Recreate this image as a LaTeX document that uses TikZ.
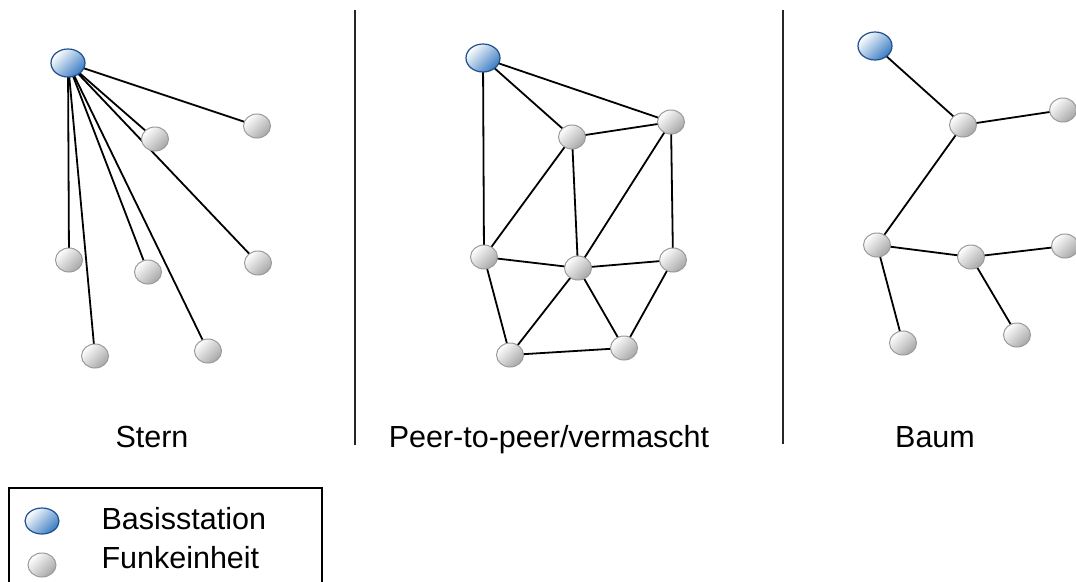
\documentclass[tikz,border=0pt]{standalone}
\usepackage{fontspec}
\setmainfont{Liberation Sans}
\usetikzlibrary{backgrounds,shapes.geometric}
\definecolor{bsblue}{HTML}{3A7CC2}
\definecolor{bsrim}{HTML}{1D4F8C}
\definecolor{fegray}{HTML}{A6A6A6}
\definecolor{ferim}{HTML}{9A9A9A}
\tikzset{
  bs/.style  ={draw=bsrim, ellipse, minimum width=34pt, minimum height=28pt, inner sep=0pt,
               line width=1.2pt, top color=white, bottom color=bsblue, shading angle=45},
  fe/.style  ={draw=ferim, ellipse, minimum width=27pt, minimum height=24pt, inner sep=0pt,
               line width=1pt, top color=white, bottom color=fegray, shading angle=45},
  link/.style={line width=1.8pt, black},
  sep/.style ={line width=2pt, black!85},
  lab/.style ={font=\fontsize{30.5}{36}\selectfont, anchor=base},
}

\begin{document}
\begin{tikzpicture}[x=1pt, y=-1pt]
  \useasboundingbox (0,0) rectangle (1076,581);
  % Stern
  \node[bs] (s0) at (68,63) {};
  \node[fe] (s1) at (257,126) {};
  \node[fe] (s2) at (155,139) {};
  \node[fe] (s3) at (258,263) {};
  \node[fe] (s4) at (69,260) {};
  \node[fe] (s5) at (148,272) {};
  \node[fe] (s6) at (95,356) {};
  \node[fe] (s7) at (208,351) {};
  \begin{scope}[on background layer]
    \foreach \i in {1,...,7} \draw[link] (s0.center) -- (s\i.center);
  \end{scope}
  \node[lab] (tstern) at (152,447) {Stern};
  % Peer-to-peer
  \node[bs] (m0) at (483,58) {};
  \node[fe] (m1) at (572,137) {};
  \node[fe] (m2) at (671,122) {};
  \node[fe] (m3) at (484,257) {};
  \node[fe] (m4) at (578,268) {};
  \node[fe] (m5) at (673,260) {};
  \node[fe] (m6) at (510,355) {};
  \node[fe] (m7) at (624,348) {};
  \begin{scope}[on background layer]
    \foreach \a/\b in {0/1,0/2,0/3,1/2,1/3,1/4,2/4,2/5,3/4,4/5,3/6,4/6,4/7,6/7,5/7}
      \draw[link] (m\a.center) -- (m\b.center);
  \end{scope}
  \node[lab] (tmesh) at (549,447) {Peer-to-peer/vermascht};
  % Baum
  \node[bs] (b0) at (875,46) {};
  \node[fe] (b1) at (963,125) {};
  \node[fe] (b2) at (1063,110) {};
  \node[fe] (b3) at (877,245) {};
  \node[fe] (b4) at (971,257) {};
  \node[fe] (b5) at (1065,246) {};
  \node[fe] (b6) at (903,343) {};
  \node[fe] (b7) at (1017,335) {};
  \begin{scope}[on background layer]
    \foreach \a/\b in {0/1,1/2,1/3,3/4,4/5,3/6,4/7}
      \draw[link] (b\a.center) -- (b\b.center);
  \end{scope}
  \node[lab] (tbaum) at (935,447) {Baum};
  % Trennlinien
  \coordinate (l1t) at (355,10); \coordinate (l1b) at (355,445);
  \coordinate (l2t) at (783,10); \coordinate (l2b) at (783,444);
  \draw[sep] (l1t) -- (l1b);
  \draw[sep] (l2t) -- (l2b);
  % Legende
  \draw[line width=1.4pt] (9,590) |- (322,488) -- (322,590);
  \node[bs, minimum width=34pt, minimum height=26pt] (lbs) at (42,521) {};
  \node[fe, minimum width=28pt, minimum height=24pt] (lfe) at (42,565) {};
  \node[lab, anchor=base west] (tbs) at (98,529) {Basisstation};
  \node[lab, anchor=base west] (tfe) at (98,568) {Funkeinheit};
\end{tikzpicture}
\end{document}
